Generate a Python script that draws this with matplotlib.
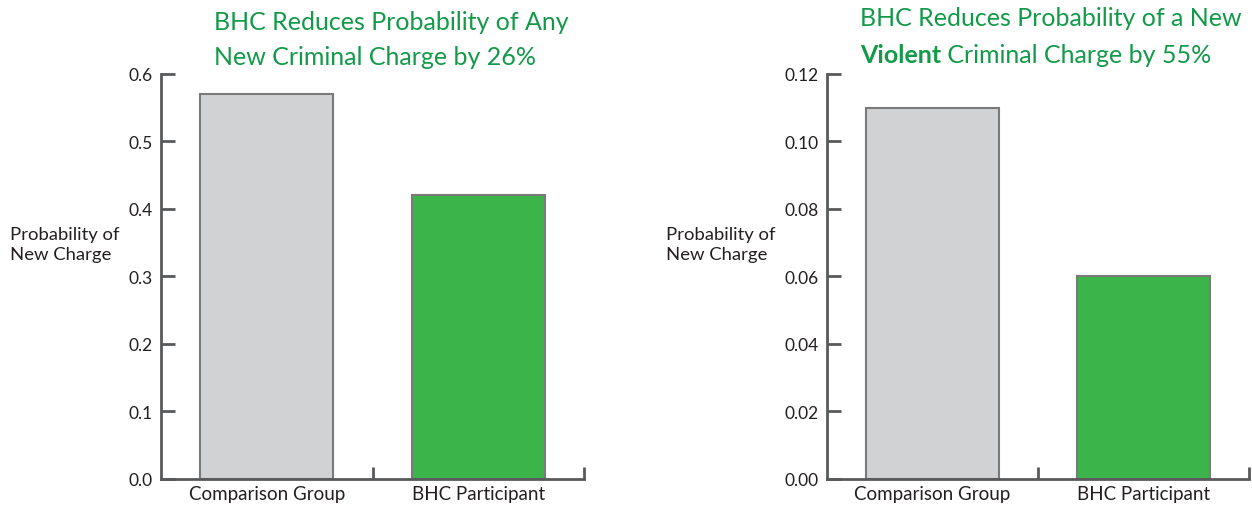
import matplotlib.pyplot as plt
from matplotlib.ticker import FixedLocator, FormatStrFormatter

plt.rcParams['font.family'] = ['Lato', 'DejaVu Sans']

# data
groups = ["Comparison Group", "BHC Participant"]
any_charge = [0.57, 0.42]
violent_charge = [0.11, 0.06]
any_ticks = [0.0, 0.1, 0.2, 0.3, 0.4, 0.5, 0.6]
violent_ticks = [0.00, 0.02, 0.04, 0.06, 0.08, 0.10, 0.12]

bar_colors = ["#d1d2d4", "#3bb54a"]
edge_col = "#7a7a7a"
spine_col = "#58595b"
title_col = "#139a48"

fig = plt.figure(figsize=(12.52, 5.06), dpi=100)
ax1 = fig.add_axes([0.1286, 0.0514, 0.3379, 0.8004])
ax2 = fig.add_axes([0.6605, 0.0514, 0.3371, 0.8004])


def style_axis(ax, vals, ticks, fmt):
    x = range(len(vals))
    ax.bar(x, vals, width=0.63, color=bar_colors, edgecolor=edge_col, linewidth=1.5)
    ax.set_xlim(-0.5, 1.5)
    ax.set_ylim(ticks[0], ticks[-1])
    ax.set_yticks(ticks)
    ax.yaxis.set_major_formatter(FormatStrFormatter(fmt))
    ax.set_xticks(list(x))
    ax.set_xticklabels(groups, fontsize=13.5)
    ax.xaxis.set_minor_locator(FixedLocator([0.5, 1.5]))
    ax.tick_params(axis='x', which='major', length=0, pad=4)
    ax.tick_params(axis='x', which='minor', direction='in', length=9, width=2, color=spine_col)
    ax.tick_params(axis='y', direction='in', length=10, width=2, color=spine_col,
                   labelsize=12.5, pad=6)
    for s in ['top', 'right']:
        ax.spines[s].set_visible(False)
    for s in ['left', 'bottom']:
        ax.spines[s].set_color(spine_col)
        ax.spines[s].set_linewidth(2)
    for lab in ax.get_xticklabels() + ax.get_yticklabels():
        lab.set_color("#231f20")
    ax.set_clip_on(False)


style_axis(ax1, any_charge, any_ticks, '%.1f')
style_axis(ax2, violent_charge, violent_ticks, '%.2f')

# y labels
fig.text(10 / 1252, 1 - 245 / 506, "Probability of\nNew Charge", fontsize=13.3,
         ha='left', va='center', color="#231f20", linespacing=1.35)
fig.text(666 / 1252, 1 - 245 / 506, "Probability of\nNew Charge", fontsize=13.3,
         ha='left', va='center', color="#231f20", linespacing=1.35)

# titles
tsize = 18
fig.text(214 / 1252, 1 - 30 / 506, "BHC Reduces Probability of Any", fontsize=tsize,
         color=title_col, ha='left', va='baseline')
fig.text(214 / 1252, 1 - 65 / 506, "New Criminal Charge by 26%", fontsize=tsize,
         color=title_col, ha='left', va='baseline')

fig.text(860 / 1252, 1 - 26 / 506, "BHC Reduces Probability of a New", fontsize=tsize,
         color=title_col, ha='left', va='baseline')
t_bold = fig.text(860 / 1252, 1 - 63 / 506, "Violent", fontsize=tsize, fontweight='bold',
                  color=title_col, ha='left', va='baseline')
fig.canvas.draw()
bb = t_bold.get_window_extent()
fig.text(bb.x1 / fig.bbox.width, 1 - 63 / 506, " Criminal Charge by 55%", fontsize=tsize,
         color=title_col, ha='left', va='baseline')

fig.savefig("out.png", dpi=100)
